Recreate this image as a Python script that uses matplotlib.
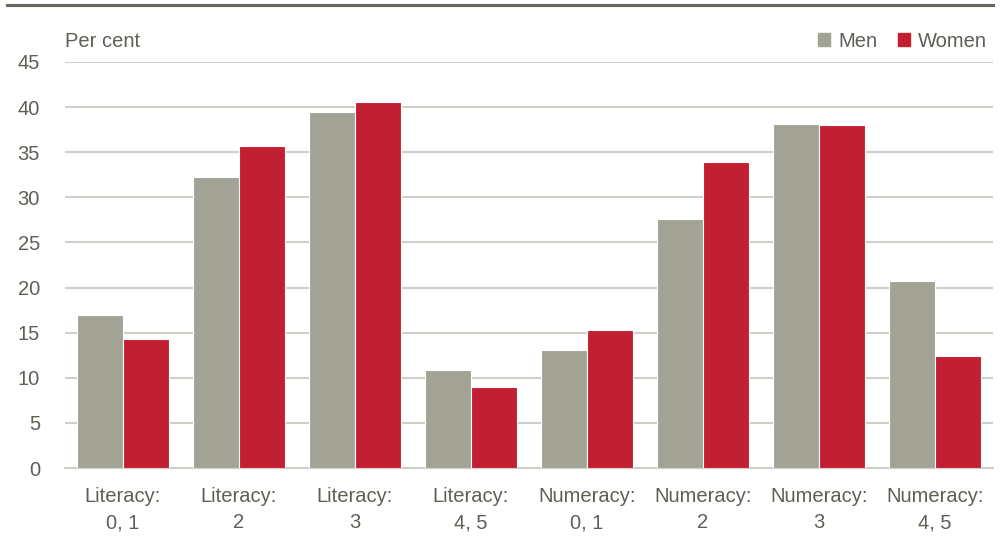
import matplotlib
matplotlib.use("Agg")
import matplotlib.pyplot as plt
import numpy as np
from matplotlib.lines import Line2D

categories = ["Literacy:\n0, 1", "Literacy:\n2", "Literacy:\n3", "Literacy:\n4, 5",
              "Numeracy:\n0, 1", "Numeracy:\n2", "Numeracy:\n3", "Numeracy:\n4, 5"]
men = [17.0, 32.3, 39.4, 10.9, 13.1, 27.6, 38.1, 20.7]
women = [14.3, 35.7, 40.6, 9.0, 15.3, 33.9, 38.0, 12.4]
yticks = [0, 5, 10, 15, 20, 25, 30, 35, 40, 45]

plt.rcParams['font.family'] = ['Liberation Sans Narrow', 'Liberation Sans', 'DejaVu Sans']
TXT = '#5f5f55'
GRAY = '#a3a395'
RED = '#c21f32'
GRID = '#cfcfc8'

fig = plt.figure(figsize=(10, 5.4), dpi=100)
ax = fig.add_axes([0.065, 0.1333, 0.928, 0.752])

x = np.arange(len(categories))
w = 0.395
ax.bar(x - w/2, men, width=w, color=GRAY, edgecolor='white', linewidth=0.8, zorder=3)
ax.bar(x + w/2, women, width=w, color=RED, edgecolor='white', linewidth=0.8, zorder=3)

ax.set_xlim(-0.5, len(categories) - 0.5)
ax.set_ylim(0, 45)
ax.set_yticks(yticks)
ax.set_yticklabels([str(t) for t in yticks], fontsize=14.5, color=TXT)
ax.set_xticks(x)
ax.set_xticklabels(categories, fontsize=14.5, color=TXT, linespacing=1.45)
ax.tick_params(axis='both', length=0)
ax.tick_params(axis='y', pad=18)
ax.tick_params(axis='x', pad=14)
for s in ['top', 'right', 'left']:
    ax.spines[s].set_visible(False)
ax.spines['bottom'].set_color(GRID)
ax.spines['bottom'].set_linewidth(1.5)
ax.yaxis.grid(True, color=GRID, linewidth=1.5, zorder=0)
ax.set_axisbelow(True)

fig.text(0.065, 0.924, "Per cent", fontsize=14.5, color=TXT, va='center', ha='left')

# top rule
fig.add_artist(Line2D([0.007, 0.993], [0.991, 0.991], color='#66665a', linewidth=2.2))

handles = [plt.Rectangle((0, 0), 1, 1, color=GRAY), plt.Rectangle((0, 0), 1, 1, color=RED)]
leg = fig.legend(handles, ["Men", "Women"], loc='center right', bbox_to_anchor=(0.995, 0.924),
                 ncol=2, frameon=False, fontsize=14.5, handlelength=0.6, handleheight=0.6,
                 handletextpad=0.4, columnspacing=1.0, borderaxespad=0)
for t in leg.get_texts():
    t.set_color(TXT)

fig.savefig("out.png", dpi=100)
